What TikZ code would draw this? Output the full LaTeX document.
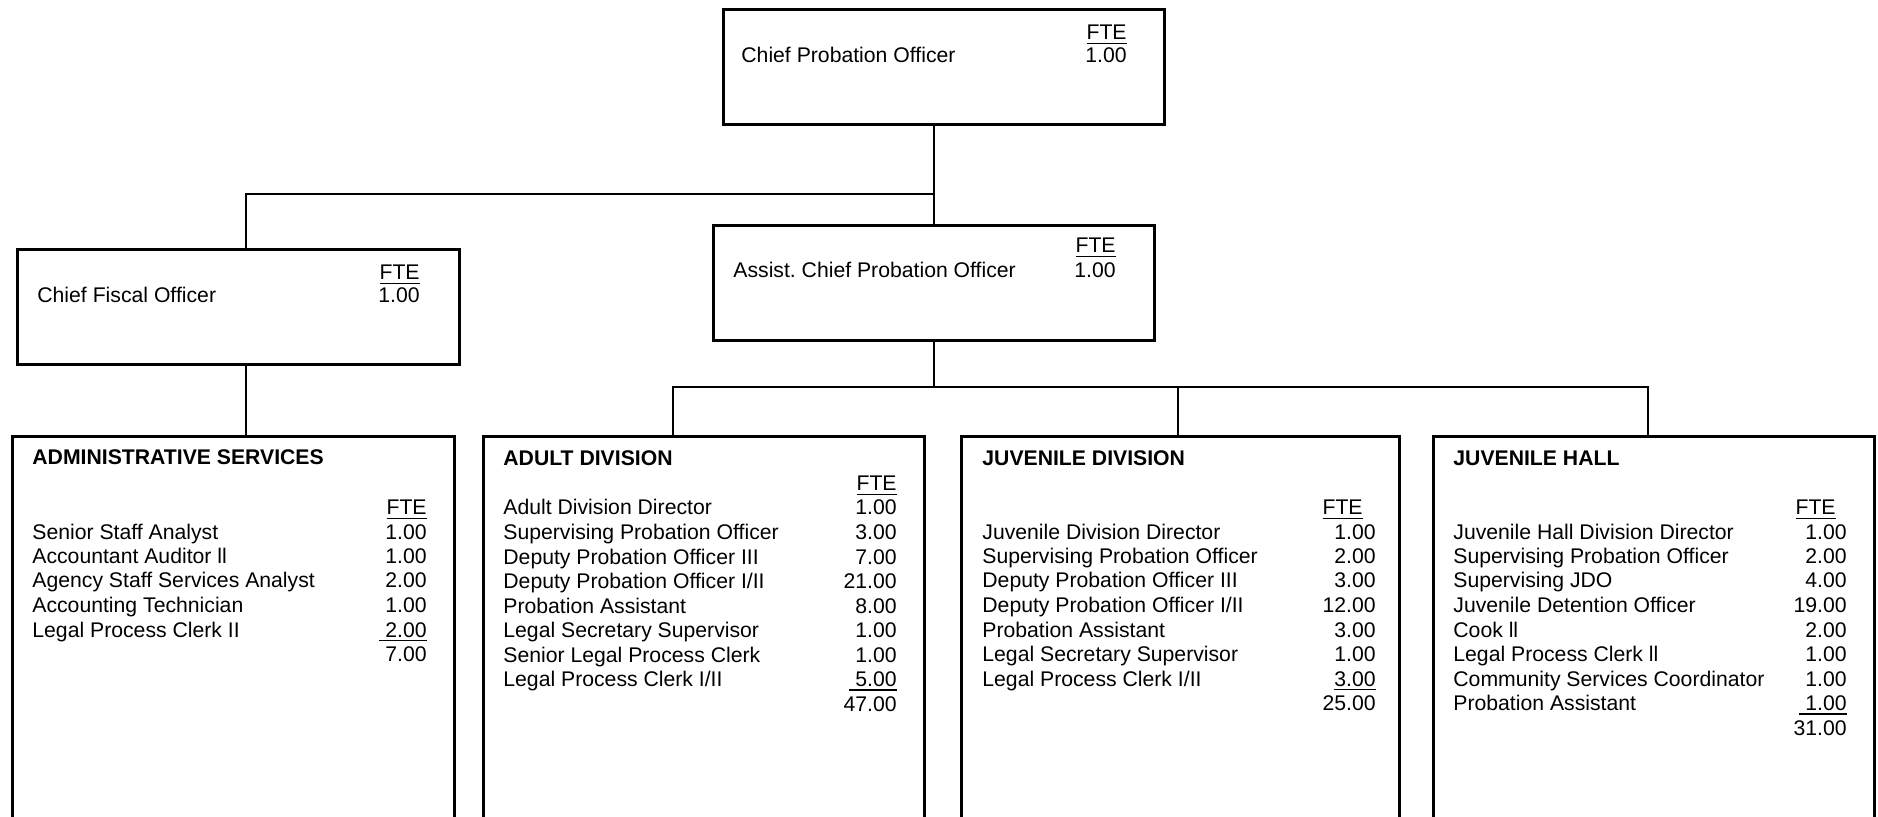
\documentclass[tikz,border=0pt]{standalone}
\usepackage{fontspec}
\setmainfont{Liberation Sans}
\frenchspacing
\newcommand\ulbox[1]{\setbox0=\hbox{#1}\rlap{\rule[-2.2pt]{\wd0}{0.9pt}}\box0}
\tikzset{
  box/.style={draw, line width=1.3pt, inner sep=0pt, anchor=north west, minimum height=57.5pt},
  listbox/.style={draw, line width=1.3pt, inner sep=0pt, anchor=north west, minimum height=197.5pt},
  conn/.style={line width=1.1pt},
  txt/.style={inner sep=0pt, anchor=base west, font=\fontsize{10.6pt}{12pt}\selectfont},
  num/.style={inner sep=0pt, anchor=base east, font=\fontsize{10.6pt}{12pt}\selectfont},
  ttl/.style={inner sep=0pt, anchor=base west, font=\fontsize{10.6pt}{12pt}\selectfont\bfseries}
}
\begin{document}
\begin{tikzpicture}[x=0.5pt, y=-0.5pt]
\useasboundingbox (0,0) rectangle (1878,817);
\clip (0,0) rectangle (1878,817);

% boxes
\node[box, minimum width=220.5pt] (top) at (722,8) {};
\node[box, minimum width=221pt] (cfo) at (16,248) {};
\node[box, minimum width=220.5pt] (asst) at (712,224) {};
\node[listbox, minimum width=221pt] (admin) at (11,435) {};
\node[listbox, minimum width=220.5pt] (adult) at (482,435) {};
\node[listbox, minimum width=219pt] (juv) at (960,435) {};
\node[listbox, minimum width=220.5pt] (hall) at (1432,435) {};

% connectors
\coordinate (busA) at (246,194);
\coordinate (busB) at (673,387);
\coordinate (busC) at (1178,387);
\coordinate (busD) at (1648,387);
\draw[conn] (asst.north |- top.south) -- (asst.north);
\draw[conn] (busA |- cfo.north) -- (busA) -- (busA -| asst.north);
\draw[conn] (busA |- cfo.south) -- (busA |- admin.north);
\draw[conn] (asst.south) -- (asst.south |- busB);
\draw[conn] (busB |- adult.north) -- (busB) -- (busD) -- (busD |- hall.north);
\draw[conn] (busC) -- (busC |- juv.north);

% top box texts
\node[txt] (topn) at (741,63) {Chief Probation Officer};
\node[num] (topf) at (1127,40) {\ulbox{FTE}};
\node[num] (topv) at (1127,63) {1.00};

\node[txt] (cfon) at (37,303) {Chief Fiscal Officer};
\node[num] (cfof) at (420,280) {\ulbox{FTE}};
\node[num] (cfov) at (420,303) {1.00};

\node[txt] (asstn) at (733,278) {Assist. Chief Probation Officer};
\node[num] (asstf) at (1116,253) {\ulbox{FTE}};
\node[num] (asstv) at (1116,278) {1.00};

% administrative services
\node[ttl] (admt) at (32,465) {ADMINISTRATIVE SERVICES};
\node[num] (admf) at (427,515) {\ulbox{FTE}};
\foreach \n/\v [count=\i from 0] in {Senior Staff Analyst/1.00, Accountant Auditor ll/1.00, Agency Staff Services Analyst/2.00, Accounting Technician/1.00, Legal Process Clerk II/{\ulbox{\ 2.00}}} {
  \node[txt] (adm-n\i) at (32,539+24.5*\i) {\n};
  \node[num] (adm-v\i) at (427,539+24.5*\i) {\v};
}
\node[num] (admtot) at (427,661.5) {7.00};

% adult division
\node[ttl] (adt) at (503,466) {ADULT DIVISION};
\node[num] (adf) at (897,491) {\ulbox{FTE}};
\foreach \n/\v [count=\i from 0] in {Adult Division Director/1.00, Supervising Probation Officer/3.00, Deputy Probation Officer III/7.00, {Deputy Probation Officer I/II}/21.00, Probation Assistant/8.00, Legal Secretary Supervisor/1.00, Senior Legal Process Clerk/1.00, {Legal Process Clerk I/II}/{\ulbox{\ 5.00}}} {
  \node[txt] (ad-n\i) at (503,515+24.5*\i) {\n};
  \node[num] (ad-v\i) at (897,515+24.5*\i) {\v};
}
\node[num] (adtot) at (897,711) {47.00};

% juvenile division
\node[ttl] (jdt) at (982,466) {JUVENILE DIVISION};
\node[num] (jdf) at (1363,515) {\ulbox{FTE}};
\foreach \n/\v [count=\i from 0] in {Juvenile Division Director/1.00, Supervising Probation Officer/2.00, Deputy Probation Officer III/3.00, {Deputy Probation Officer I/II}/12.00, Probation Assistant/3.00, Legal Secretary Supervisor/1.00, {Legal Process Clerk I/II}/{\ulbox{3.00}}} {
  \node[txt] (jd-n\i) at (982,539+24.5*\i) {\n};
  \node[num] (jd-v\i) at (1376,539+24.5*\i) {\v};
}
\node[num] (jdtot) at (1376,710.5) {25.00};

% juvenile hall
\node[ttl] (jht) at (1453,466) {JUVENILE HALL};
\node[num] (jhf) at (1836,515) {\ulbox{FTE}};
\foreach \n/\v [count=\i from 0] in {Juvenile Hall Division Director/1.00, Supervising Probation Officer/2.00, Supervising JDO/4.00, Juvenile Detention Officer/19.00, Cook ll/2.00, Legal Process Clerk ll/1.00, Community Services Coordinator/1.00, Probation Assistant/{\ulbox{\ 1.00}}} {
  \node[txt] (jh-n\i) at (1453,539+24.5*\i) {\n};
  \node[num] (jh-v\i) at (1847,539+24.5*\i) {\v};
}
\node[num] (jhtot) at (1847,735) {31.00};
\end{tikzpicture}
\end{document}
